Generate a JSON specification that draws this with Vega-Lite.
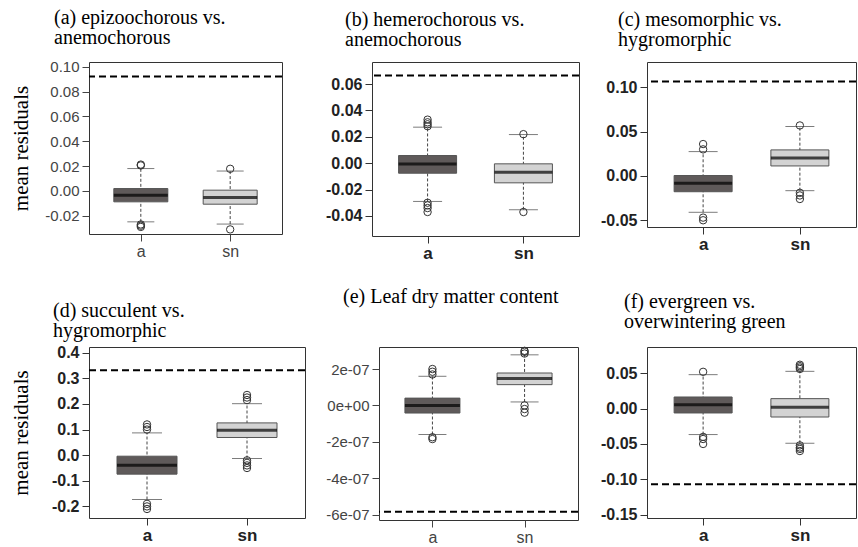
{
  "$schema": "https://vega.github.io/schema/vega-lite/v6.json",
  "padding": {"left": 9, "top": 7, "right": 0, "bottom": 0},
  "background": "white",
  "config": {"view": {"stroke": "#333", "strokeWidth": 1}, "axis": {"grid": false}},
  "datasets": {
    "boxes": [
      {"panel": "a", "grp": "a", "lower": -0.0249, "q1": -0.0088, "median": -0.0035, "q3": 0.0019, "upper": 0.018},
      {"panel": "a", "grp": "sn", "lower": -0.0267, "q1": -0.0107, "median": -0.0053, "q3": 0.0006, "upper": 0.016},
      {"panel": "b", "grp": "a", "lower": -0.029, "q1": -0.0076, "median": -0.0007, "q3": 0.0058, "upper": 0.0273},
      {"panel": "b", "grp": "sn", "lower": -0.0353, "q1": -0.0149, "median": -0.0068, "q3": -0.0005, "upper": 0.0217},
      {"panel": "c", "grp": "a", "lower": -0.041, "q1": -0.0178, "median": -0.0083, "q3": 0.0005, "upper": 0.0275},
      {"panel": "c", "grp": "sn", "lower": -0.0166, "q1": 0.0113, "median": 0.0204, "q3": 0.0294, "upper": 0.0558},
      {"panel": "d", "grp": "a", "lower": -0.173, "q1": -0.074, "median": -0.039, "q3": -0.004, "upper": 0.087},
      {"panel": "d", "grp": "sn", "lower": -0.013, "q1": 0.069, "median": 0.097, "q3": 0.126, "upper": 0.201},
      {"panel": "e", "grp": "a", "lower": -1.6e-7, "q1": -4.2e-8, "median": 0, "q3": 4.0e-8, "upper": 1.6e-7},
      {"panel": "e", "grp": "sn", "lower": 1.9e-8, "q1": 1.14e-7, "median": 1.48e-7, "q3": 1.78e-7, "upper": 2.78e-7},
      {"panel": "f", "grp": "a", "lower": -0.0367, "q1": -0.0062, "median": 0.0056, "q3": 0.0164, "upper": 0.048},
      {"panel": "f", "grp": "sn", "lower": -0.049, "q1": -0.0119, "median": 0.0018, "q3": 0.0141, "upper": 0.0527}
    ],
    "outliers": [
      {"panel": "a", "grp": "a", "value": 0.0205}, {"panel": "a", "grp": "a", "value": 0.0212},
      {"panel": "a", "grp": "a", "value": -0.027}, {"panel": "a", "grp": "a", "value": -0.028}, {"panel": "a", "grp": "a", "value": -0.029},
      {"panel": "a", "grp": "sn", "value": 0.0178}, {"panel": "a", "grp": "sn", "value": -0.031},
      {"panel": "b", "grp": "a", "value": 0.028}, {"panel": "b", "grp": "a", "value": 0.0295}, {"panel": "b", "grp": "a", "value": 0.031}, {"panel": "b", "grp": "a", "value": 0.033},
      {"panel": "b", "grp": "a", "value": -0.03}, {"panel": "b", "grp": "a", "value": -0.032}, {"panel": "b", "grp": "a", "value": -0.034}, {"panel": "b", "grp": "a", "value": -0.037},
      {"panel": "b", "grp": "sn", "value": 0.022}, {"panel": "b", "grp": "sn", "value": -0.037},
      {"panel": "c", "grp": "a", "value": 0.03}, {"panel": "c", "grp": "a", "value": 0.036}, {"panel": "c", "grp": "a", "value": -0.047}, {"panel": "c", "grp": "a", "value": -0.05},
      {"panel": "c", "grp": "sn", "value": 0.057}, {"panel": "c", "grp": "sn", "value": -0.019}, {"panel": "c", "grp": "sn", "value": -0.022}, {"panel": "c", "grp": "sn", "value": -0.026},
      {"panel": "d", "grp": "a", "value": 0.1}, {"panel": "d", "grp": "a", "value": 0.11}, {"panel": "d", "grp": "a", "value": 0.12},
      {"panel": "d", "grp": "a", "value": -0.19}, {"panel": "d", "grp": "a", "value": -0.2}, {"panel": "d", "grp": "a", "value": -0.21},
      {"panel": "d", "grp": "sn", "value": 0.215}, {"panel": "d", "grp": "sn", "value": 0.225}, {"panel": "d", "grp": "sn", "value": 0.235},
      {"panel": "d", "grp": "sn", "value": -0.02}, {"panel": "d", "grp": "sn", "value": -0.03}, {"panel": "d", "grp": "sn", "value": -0.04}, {"panel": "d", "grp": "sn", "value": -0.05},
      {"panel": "e", "grp": "a", "value": 1.7e-7}, {"panel": "e", "grp": "a", "value": 1.85e-7}, {"panel": "e", "grp": "a", "value": 2.0e-7},
      {"panel": "e", "grp": "a", "value": -1.75e-7}, {"panel": "e", "grp": "a", "value": -1.85e-7},
      {"panel": "e", "grp": "sn", "value": 2.85e-7}, {"panel": "e", "grp": "sn", "value": 2.95e-7}, {"panel": "e", "grp": "sn", "value": 3.0e-7},
      {"panel": "e", "grp": "sn", "value": 0}, {"panel": "e", "grp": "sn", "value": -2e-8}, {"panel": "e", "grp": "sn", "value": -4e-8},
      {"panel": "f", "grp": "a", "value": 0.052}, {"panel": "f", "grp": "a", "value": -0.04}, {"panel": "f", "grp": "a", "value": -0.043}, {"panel": "f", "grp": "a", "value": -0.05},
      {"panel": "f", "grp": "sn", "value": 0.056}, {"panel": "f", "grp": "sn", "value": 0.058}, {"panel": "f", "grp": "sn", "value": 0.06}, {"panel": "f", "grp": "sn", "value": 0.062},
      {"panel": "f", "grp": "sn", "value": -0.052}, {"panel": "f", "grp": "sn", "value": -0.055}, {"panel": "f", "grp": "sn", "value": -0.057}, {"panel": "f", "grp": "sn", "value": -0.06}
    ],
    "lines": [
      {"panel": "a", "value": 0.0921},
      {"panel": "b", "value": 0.0664},
      {"panel": "c", "value": 0.1067},
      {"panel": "d", "value": 0.331},
      {"panel": "e", "value": -5.85e-7},
      {"panel": "f", "value": -0.107}
    ]
  },
  "vconcat": [
    {
      "hconcat": [
        {
          "width": 193, "height": 172,
          "title": {"text": ["(a) epizoochorous vs.", "anemochorous"], "anchor": "start", "frame": "group", "dx": -35, "offset": -4, "font": "Liberation Serif", "fontSize": 20, "fontWeight": "normal", "color": "black", "lineHeight": 20, "baseline": "alphabetic"},
          "layer": [
            {"data": {"name": "boxes"}, "transform": [{"filter": "datum.panel == 'a'"}],
             "mark": {"type": "rule", "strokeDash": [3, 2], "color": "#444", "strokeWidth": 1},
             "encoding": {
               "x": {"field": "grp", "type": "nominal", "title": null, "scale": {"type": "point", "padding": 0.58, "domain": ["a", "sn"]},
                     "axis": {"labelAngle": 0, "domain": false, "tickSize": 7, "tickColor": "#444", "labelPadding": 2, "labelFont": "Liberation Sans", "labelFontSize": 16, "labelColor": "#444", "labelFontWeight": "normal"}},
               "y": {"field": "lower", "type": "quantitative", "title": "mean residuals", "scale": {"domain": [-0.0347, 0.1038], "nice": false, "zero": false},
                     "axis": {"values": [-0.02, 0, 0.02, 0.04, 0.06, 0.08, 0.1], "tickCount": 40, "labelExpr": "replace(format(datum.value, '.2f'), '\u2212', '-')", "labelOverlap": false, "domain": false, "tickSize": 7, "tickColor": "#444", "labelPadding": 3, "labelFont": "Liberation Sans", "labelFontSize": 15, "labelColor": "#444", "labelFontWeight": "normal", "minExtent": 48, "titleFont": "Liberation Serif", "titleFontSize": 21, "titleFontWeight": "normal", "titleColor": "black", "titlePadding": 10}},
               "y2": {"field": "upper"}
             }},
            {"data": {"name": "boxes"}, "transform": [{"filter": "datum.panel == 'a'"}],
             "mark": {"type": "tick", "size": 27, "thickness": 1, "color": "#444"},
             "encoding": {"x": {"field": "grp", "type": "nominal", "title": null}, "y": {"field": "upper", "type": "quantitative", "title": "mean residuals"}}},
            {"data": {"name": "boxes"}, "transform": [{"filter": "datum.panel == 'a'"}],
             "mark": {"type": "tick", "size": 27, "thickness": 1, "color": "#444"},
             "encoding": {"x": {"field": "grp", "type": "nominal", "title": null}, "y": {"field": "lower", "type": "quantitative", "title": "mean residuals"}}},
            {"data": {"name": "boxes"}, "transform": [{"filter": "datum.panel == 'a'"}],
             "mark": {"type": "bar", "width": 54, "stroke": "#555", "strokeWidth": 1},
             "encoding": {"x": {"field": "grp", "type": "nominal", "title": null}, "y": {"field": "q1", "type": "quantitative", "title": "mean residuals"}, "y2": {"field": "q3"},
                          "fill": {"field": "grp", "type": "nominal", "scale": {"domain": ["a", "sn"], "range": ["#5f5a5a", "#d3d3d3"]}, "legend": null}}},
            {"data": {"name": "boxes"}, "transform": [{"filter": "datum.panel == 'a'"}],
             "mark": {"type": "tick", "size": 54, "thickness": 3, "color": "black"},
             "encoding": {"x": {"field": "grp", "type": "nominal", "title": null}, "y": {"field": "median", "type": "quantitative", "title": "mean residuals"}}},
            {"data": {"name": "outliers"}, "transform": [{"filter": "datum.panel == 'a'"}],
             "mark": {"type": "point", "filled": false, "size": 55, "strokeWidth": 1, "color": "#333", "opacity": 1},
             "encoding": {"x": {"field": "grp", "type": "nominal", "title": null}, "y": {"field": "value", "type": "quantitative", "title": "mean residuals"}}},
            {"data": {"name": "lines"}, "transform": [{"filter": "datum.panel == 'a'"}],
             "mark": {"type": "rule", "strokeDash": [7, 4], "strokeWidth": 2, "color": "black"},
             "encoding": {"y": {"field": "value", "type": "quantitative", "title": "mean residuals"}}}
          ]
        },
        {
          "width": 207, "height": 174,
          "title": {"text": ["(b) hemerochorous vs.", "anemochorous"], "anchor": "start", "frame": "group", "dx": -27, "offset": -4, "font": "Liberation Serif", "fontSize": 20, "fontWeight": "normal", "color": "black", "lineHeight": 20, "baseline": "alphabetic"},
          "layer": [
            {"data": {"name": "boxes"}, "transform": [{"filter": "datum.panel == 'b'"}],
             "mark": {"type": "rule", "strokeDash": [3, 2], "color": "#444", "strokeWidth": 1},
             "encoding": {
               "x": {"field": "grp", "type": "nominal", "title": null, "scale": {"type": "point", "padding": 0.58, "domain": ["a", "sn"]},
                     "axis": {"labelAngle": 0, "domain": false, "tickSize": 7, "tickColor": "#333", "labelPadding": 2, "labelFont": "Liberation Sans", "labelFontSize": 17, "labelColor": "#222", "labelFontWeight": "bold"}},
               "y": {"field": "lower", "type": "quantitative", "title": " ", "scale": {"domain": [-0.0552, 0.0767], "nice": false, "zero": false},
                     "axis": {"values": [-0.04, -0.02, 0, 0.02, 0.04, 0.06], "tickCount": 40, "labelExpr": "replace(format(datum.value, '.2f'), '\u2212', '-')", "labelOverlap": false, "domain": false, "tickSize": 7, "tickColor": "#333", "labelPadding": 3, "labelFont": "Liberation Sans", "labelFontSize": 16, "labelColor": "#222", "labelFontWeight": "bold", "minExtent": 50, "titleFontSize": 1, "titlePadding": 26}},
               "y2": {"field": "upper"}
             }},
            {"data": {"name": "boxes"}, "transform": [{"filter": "datum.panel == 'b'"}],
             "mark": {"type": "tick", "size": 29, "thickness": 1, "color": "#444"},
             "encoding": {"x": {"field": "grp", "type": "nominal", "title": null}, "y": {"field": "upper", "type": "quantitative", "title": " "}}},
            {"data": {"name": "boxes"}, "transform": [{"filter": "datum.panel == 'b'"}],
             "mark": {"type": "tick", "size": 29, "thickness": 1, "color": "#444"},
             "encoding": {"x": {"field": "grp", "type": "nominal", "title": null}, "y": {"field": "lower", "type": "quantitative", "title": " "}}},
            {"data": {"name": "boxes"}, "transform": [{"filter": "datum.panel == 'b'"}],
             "mark": {"type": "bar", "width": 58, "stroke": "#555", "strokeWidth": 1},
             "encoding": {"x": {"field": "grp", "type": "nominal", "title": null}, "y": {"field": "q1", "type": "quantitative", "title": " "}, "y2": {"field": "q3"},
                          "fill": {"field": "grp", "type": "nominal", "scale": {"domain": ["a", "sn"], "range": ["#5f5a5a", "#d3d3d3"]}, "legend": null}}},
            {"data": {"name": "boxes"}, "transform": [{"filter": "datum.panel == 'b'"}],
             "mark": {"type": "tick", "size": 58, "thickness": 3, "color": "black"},
             "encoding": {"x": {"field": "grp", "type": "nominal", "title": null}, "y": {"field": "median", "type": "quantitative", "title": " "}}},
            {"data": {"name": "outliers"}, "transform": [{"filter": "datum.panel == 'b'"}],
             "mark": {"type": "point", "filled": false, "size": 55, "strokeWidth": 1, "color": "#333", "opacity": 1},
             "encoding": {"x": {"field": "grp", "type": "nominal", "title": null}, "y": {"field": "value", "type": "quantitative", "title": " "}}},
            {"data": {"name": "lines"}, "transform": [{"filter": "datum.panel == 'b'"}],
             "mark": {"type": "rule", "strokeDash": [7, 4], "strokeWidth": 2, "color": "black"},
             "encoding": {"y": {"field": "value", "type": "quantitative", "title": " "}}}
          ]
        },
        {
          "width": 209, "height": 165,
          "title": {"text": ["(c) mesomorphic vs.", "hygromorphic"], "anchor": "start", "frame": "group", "dx": -29, "offset": -4, "font": "Liberation Serif", "fontSize": 20, "fontWeight": "normal", "color": "black", "lineHeight": 20, "baseline": "alphabetic"},
          "layer": [
            {"data": {"name": "boxes"}, "transform": [{"filter": "datum.panel == 'c'"}],
             "mark": {"type": "rule", "strokeDash": [3, 2], "color": "#444", "strokeWidth": 1},
             "encoding": {
               "x": {"field": "grp", "type": "nominal", "title": null, "scale": {"type": "point", "padding": 0.58, "domain": ["a", "sn"]},
                     "axis": {"labelAngle": 0, "domain": false, "tickSize": 7, "tickColor": "#333", "labelPadding": 2, "labelFont": "Liberation Sans", "labelFontSize": 17, "labelColor": "#222", "labelFontWeight": "bold"}},
               "y": {"field": "lower", "type": "quantitative", "title": " ", "scale": {"domain": [-0.0576, 0.1286], "nice": false, "zero": false},
                     "axis": {"values": [-0.05, 0, 0.05, 0.1], "tickCount": 40, "labelExpr": "replace(format(datum.value, '.2f'), '\u2212', '-')", "labelOverlap": false, "domain": false, "tickSize": 7, "tickColor": "#333", "labelPadding": 3, "labelFont": "Liberation Sans", "labelFontSize": 16, "labelColor": "#222", "labelFontWeight": "bold", "minExtent": 50, "titleFontSize": 1, "titlePadding": 4}},
               "y2": {"field": "upper"}
             }},
            {"data": {"name": "boxes"}, "transform": [{"filter": "datum.panel == 'c'"}],
             "mark": {"type": "tick", "size": 29, "thickness": 1, "color": "#444"},
             "encoding": {"x": {"field": "grp", "type": "nominal", "title": null}, "y": {"field": "upper", "type": "quantitative", "title": " "}}},
            {"data": {"name": "boxes"}, "transform": [{"filter": "datum.panel == 'c'"}],
             "mark": {"type": "tick", "size": 29, "thickness": 1, "color": "#444"},
             "encoding": {"x": {"field": "grp", "type": "nominal", "title": null}, "y": {"field": "lower", "type": "quantitative", "title": " "}}},
            {"data": {"name": "boxes"}, "transform": [{"filter": "datum.panel == 'c'"}],
             "mark": {"type": "bar", "width": 58, "stroke": "#555", "strokeWidth": 1},
             "encoding": {"x": {"field": "grp", "type": "nominal", "title": null}, "y": {"field": "q1", "type": "quantitative", "title": " "}, "y2": {"field": "q3"},
                          "fill": {"field": "grp", "type": "nominal", "scale": {"domain": ["a", "sn"], "range": ["#5f5a5a", "#d3d3d3"]}, "legend": null}}},
            {"data": {"name": "boxes"}, "transform": [{"filter": "datum.panel == 'c'"}],
             "mark": {"type": "tick", "size": 58, "thickness": 3, "color": "black"},
             "encoding": {"x": {"field": "grp", "type": "nominal", "title": null}, "y": {"field": "median", "type": "quantitative", "title": " "}}},
            {"data": {"name": "outliers"}, "transform": [{"filter": "datum.panel == 'c'"}],
             "mark": {"type": "point", "filled": false, "size": 55, "strokeWidth": 1, "color": "#333", "opacity": 1},
             "encoding": {"x": {"field": "grp", "type": "nominal", "title": null}, "y": {"field": "value", "type": "quantitative", "title": " "}}},
            {"data": {"name": "lines"}, "transform": [{"filter": "datum.panel == 'c'"}],
             "mark": {"type": "rule", "strokeDash": [7, 4], "strokeWidth": 2, "color": "black"},
             "encoding": {"y": {"field": "value", "type": "quantitative", "title": " "}}}
          ]
        }
      ],
      "spacing": 10,
      "bounds": "full"
    },
    {
      "hconcat": [
        {
          "width": 216, "height": 171,
          "title": {"text": ["(d) succulent vs.", "hygromorphic"], "anchor": "start", "frame": "group", "dx": -36, "offset": -12, "font": "Liberation Serif", "fontSize": 20, "fontWeight": "normal", "color": "black", "lineHeight": 20, "baseline": "alphabetic"},
          "layer": [
            {"data": {"name": "boxes"}, "transform": [{"filter": "datum.panel == 'd'"}],
             "mark": {"type": "rule", "strokeDash": [3, 2], "color": "#444", "strokeWidth": 1},
             "encoding": {
               "x": {"field": "grp", "type": "nominal", "title": null, "scale": {"type": "point", "padding": 0.58, "domain": ["a", "sn"]},
                     "axis": {"labelAngle": 0, "domain": false, "tickSize": 7, "tickColor": "#333", "labelPadding": 2, "labelFont": "Liberation Sans", "labelFontSize": 17, "labelColor": "#222", "labelFontWeight": "bold"}},
               "y": {"field": "lower", "type": "quantitative", "title": "mean residuals", "scale": {"domain": [-0.2452, 0.4222], "nice": false, "zero": false},
                     "axis": {"values": [-0.2, -0.1, 0, 0.1, 0.2, 0.3, 0.4], "tickCount": 40, "labelExpr": "replace(format(datum.value, '.1f'), '\u2212', '-')", "labelOverlap": false, "domain": false, "tickSize": 7, "tickColor": "#333", "labelPadding": 3, "labelFont": "Liberation Sans", "labelFontSize": 16, "labelColor": "#222", "labelFontWeight": "bold", "minExtent": 48, "titleFont": "Liberation Serif", "titleFontSize": 21, "titleFontWeight": "normal", "titleColor": "black", "titlePadding": 10}},
               "y2": {"field": "upper"}
             }},
            {"data": {"name": "boxes"}, "transform": [{"filter": "datum.panel == 'd'"}],
             "mark": {"type": "tick", "size": 30, "thickness": 1, "color": "#444"},
             "encoding": {"x": {"field": "grp", "type": "nominal", "title": null}, "y": {"field": "upper", "type": "quantitative", "title": "mean residuals"}}},
            {"data": {"name": "boxes"}, "transform": [{"filter": "datum.panel == 'd'"}],
             "mark": {"type": "tick", "size": 30, "thickness": 1, "color": "#444"},
             "encoding": {"x": {"field": "grp", "type": "nominal", "title": null}, "y": {"field": "lower", "type": "quantitative", "title": "mean residuals"}}},
            {"data": {"name": "boxes"}, "transform": [{"filter": "datum.panel == 'd'"}],
             "mark": {"type": "bar", "width": 60, "stroke": "#555", "strokeWidth": 1},
             "encoding": {"x": {"field": "grp", "type": "nominal", "title": null}, "y": {"field": "q1", "type": "quantitative", "title": "mean residuals"}, "y2": {"field": "q3"},
                          "fill": {"field": "grp", "type": "nominal", "scale": {"domain": ["a", "sn"], "range": ["#5f5a5a", "#d3d3d3"]}, "legend": null}}},
            {"data": {"name": "boxes"}, "transform": [{"filter": "datum.panel == 'd'"}],
             "mark": {"type": "tick", "size": 60, "thickness": 3, "color": "black"},
             "encoding": {"x": {"field": "grp", "type": "nominal", "title": null}, "y": {"field": "median", "type": "quantitative", "title": "mean residuals"}}},
            {"data": {"name": "outliers"}, "transform": [{"filter": "datum.panel == 'd'"}],
             "mark": {"type": "point", "filled": false, "size": 55, "strokeWidth": 1, "color": "#333", "opacity": 1},
             "encoding": {"x": {"field": "grp", "type": "nominal", "title": null}, "y": {"field": "value", "type": "quantitative", "title": "mean residuals"}}},
            {"data": {"name": "lines"}, "transform": [{"filter": "datum.panel == 'd'"}],
             "mark": {"type": "rule", "strokeDash": [7, 4], "strokeWidth": 2, "color": "black"},
             "encoding": {"y": {"field": "value", "type": "quantitative", "title": "mean residuals"}}}
          ]
        },
        {
          "width": 199, "height": 173,
          "title": {"text": "(e) Leaf dry matter content", "anchor": "start", "frame": "group", "dx": -36, "offset": 22, "font": "Liberation Serif", "fontSize": 20, "fontWeight": "normal", "color": "black", "lineHeight": 20, "baseline": "alphabetic"},
          "layer": [
            {"data": {"name": "boxes"}, "transform": [{"filter": "datum.panel == 'e'"}],
             "mark": {"type": "rule", "strokeDash": [3, 2], "color": "#444", "strokeWidth": 1},
             "encoding": {
               "x": {"field": "grp", "type": "nominal", "title": null, "scale": {"type": "point", "padding": 0.58, "domain": ["a", "sn"]},
                     "axis": {"labelAngle": 0, "domain": false, "tickSize": 7, "tickColor": "#444", "labelPadding": 2, "labelFont": "Liberation Sans", "labelFontSize": 16, "labelColor": "#444", "labelFontWeight": "normal"}},
               "y": {"field": "lower", "type": "quantitative", "title": " ", "scale": {"domain": [-6.3e-7, 3.21e-7], "nice": false, "zero": false},
                     "axis": {"values": [-6e-7, -4e-7, -2e-7, 0, 2e-7], "tickCount": 40, "labelExpr": "datum.value == 0 ? '0e+00' : replace(format(datum.value * 1e7, '.0f'), '\u2212', '-') + 'e-07'", "labelOverlap": false, "domain": false, "tickSize": 7, "tickColor": "#444", "labelPadding": 3, "labelFont": "Liberation Sans", "labelFontSize": 15, "labelColor": "#444", "labelFontWeight": "normal", "minExtent": 56, "titleFontSize": 1, "titlePadding": 4}},
               "y2": {"field": "upper"}
             }},
            {"data": {"name": "boxes"}, "transform": [{"filter": "datum.panel == 'e'"}],
             "mark": {"type": "tick", "size": 28, "thickness": 1, "color": "#444"},
             "encoding": {"x": {"field": "grp", "type": "nominal", "title": null}, "y": {"field": "upper", "type": "quantitative", "title": " "}}},
            {"data": {"name": "boxes"}, "transform": [{"filter": "datum.panel == 'e'"}],
             "mark": {"type": "tick", "size": 28, "thickness": 1, "color": "#444"},
             "encoding": {"x": {"field": "grp", "type": "nominal", "title": null}, "y": {"field": "lower", "type": "quantitative", "title": " "}}},
            {"data": {"name": "boxes"}, "transform": [{"filter": "datum.panel == 'e'"}],
             "mark": {"type": "bar", "width": 55, "stroke": "#555", "strokeWidth": 1},
             "encoding": {"x": {"field": "grp", "type": "nominal", "title": null}, "y": {"field": "q1", "type": "quantitative", "title": " "}, "y2": {"field": "q3"},
                          "fill": {"field": "grp", "type": "nominal", "scale": {"domain": ["a", "sn"], "range": ["#5f5a5a", "#d3d3d3"]}, "legend": null}}},
            {"data": {"name": "boxes"}, "transform": [{"filter": "datum.panel == 'e'"}],
             "mark": {"type": "tick", "size": 55, "thickness": 3, "color": "black"},
             "encoding": {"x": {"field": "grp", "type": "nominal", "title": null}, "y": {"field": "median", "type": "quantitative", "title": " "}}},
            {"data": {"name": "outliers"}, "transform": [{"filter": "datum.panel == 'e'"}],
             "mark": {"type": "point", "filled": false, "size": 55, "strokeWidth": 1, "color": "#333", "opacity": 1},
             "encoding": {"x": {"field": "grp", "type": "nominal", "title": null}, "y": {"field": "value", "type": "quantitative", "title": " "}}},
            {"data": {"name": "lines"}, "transform": [{"filter": "datum.panel == 'e'"}],
             "mark": {"type": "rule", "strokeDash": [7, 4], "strokeWidth": 2, "color": "black"},
             "encoding": {"y": {"field": "value", "type": "quantitative", "title": " "}}}
          ]
        },
        {
          "width": 209, "height": 171,
          "title": {"text": ["(f) evergreen vs.", "overwintering green"], "anchor": "start", "frame": "group", "dx": -23, "offset": -1, "font": "Liberation Serif", "fontSize": 20, "fontWeight": "normal", "color": "black", "lineHeight": 20, "baseline": "alphabetic"},
          "layer": [
            {"data": {"name": "boxes"}, "transform": [{"filter": "datum.panel == 'f'"}],
             "mark": {"type": "rule", "strokeDash": [3, 2], "color": "#444", "strokeWidth": 1},
             "encoding": {
               "x": {"field": "grp", "type": "nominal", "title": null, "scale": {"type": "point", "padding": 0.58, "domain": ["a", "sn"]},
                     "axis": {"labelAngle": 0, "domain": false, "tickSize": 7, "tickColor": "#333", "labelPadding": 2, "labelFont": "Liberation Sans", "labelFontSize": 17, "labelColor": "#222", "labelFontWeight": "bold"}},
               "y": {"field": "lower", "type": "quantitative", "title": " ", "scale": {"domain": [-0.1547, 0.0871], "nice": false, "zero": false},
                     "axis": {"values": [-0.15, -0.1, -0.05, 0, 0.05], "tickCount": 40, "labelExpr": "replace(format(datum.value, '.2f'), '\u2212', '-')", "labelOverlap": false, "domain": false, "tickSize": 7, "tickColor": "#333", "labelPadding": 3, "labelFont": "Liberation Sans", "labelFontSize": 16, "labelColor": "#222", "labelFontWeight": "bold", "minExtent": 50, "titleFontSize": 1, "titlePadding": 5}},
               "y2": {"field": "upper"}
             }},
            {"data": {"name": "boxes"}, "transform": [{"filter": "datum.panel == 'f'"}],
             "mark": {"type": "tick", "size": 29, "thickness": 1, "color": "#444"},
             "encoding": {"x": {"field": "grp", "type": "nominal", "title": null}, "y": {"field": "upper", "type": "quantitative", "title": " "}}},
            {"data": {"name": "boxes"}, "transform": [{"filter": "datum.panel == 'f'"}],
             "mark": {"type": "tick", "size": 29, "thickness": 1, "color": "#444"},
             "encoding": {"x": {"field": "grp", "type": "nominal", "title": null}, "y": {"field": "lower", "type": "quantitative", "title": " "}}},
            {"data": {"name": "boxes"}, "transform": [{"filter": "datum.panel == 'f'"}],
             "mark": {"type": "bar", "width": 58, "stroke": "#555", "strokeWidth": 1},
             "encoding": {"x": {"field": "grp", "type": "nominal", "title": null}, "y": {"field": "q1", "type": "quantitative", "title": " "}, "y2": {"field": "q3"},
                          "fill": {"field": "grp", "type": "nominal", "scale": {"domain": ["a", "sn"], "range": ["#5f5a5a", "#d3d3d3"]}, "legend": null}}},
            {"data": {"name": "boxes"}, "transform": [{"filter": "datum.panel == 'f'"}],
             "mark": {"type": "tick", "size": 58, "thickness": 3, "color": "black"},
             "encoding": {"x": {"field": "grp", "type": "nominal", "title": null}, "y": {"field": "median", "type": "quantitative", "title": " "}}},
            {"data": {"name": "outliers"}, "transform": [{"filter": "datum.panel == 'f'"}],
             "mark": {"type": "point", "filled": false, "size": 55, "strokeWidth": 1, "color": "#333", "opacity": 1},
             "encoding": {"x": {"field": "grp", "type": "nominal", "title": null}, "y": {"field": "value", "type": "quantitative", "title": " "}}},
            {"data": {"name": "lines"}, "transform": [{"filter": "datum.panel == 'f'"}],
             "mark": {"type": "rule", "strokeDash": [7, 4], "strokeWidth": 2, "color": "black"},
             "encoding": {"y": {"field": "value", "type": "quantitative", "title": " "}}}
          ]
        }
      ],
      "spacing": 10,
      "bounds": "full"
    }
  ],
  "spacing": 24
}
